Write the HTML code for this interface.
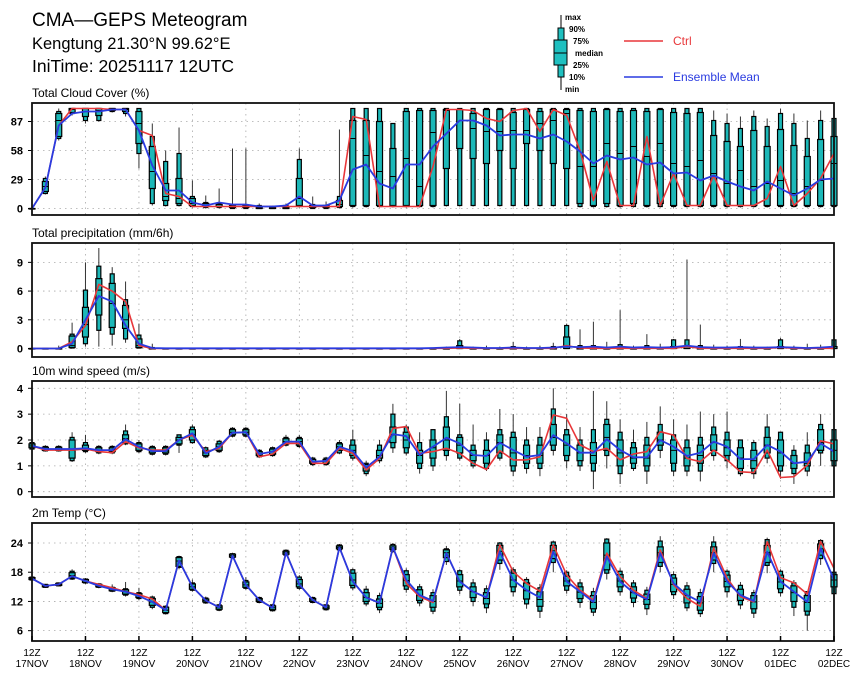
<!DOCTYPE html>
<html><head><meta charset="utf-8"><style>
html,body{margin:0;padding:0;background:#fff;}
svg{display:block;font-family:"Liberation Sans",sans-serif;}
</style></head><body>
<svg id="chart" width="860" height="679" viewBox="0 0 860 679" xmlns="http://www.w3.org/2000/svg">
<text x="32" y="26" font-size="19" fill="#000">CMA—GEPS Meteogram</text>
<text x="32" y="49" font-size="16.5" fill="#000">Kengtung 21.30°N 99.62°E</text>
<text x="32" y="72" font-size="17.5" fill="#000">IniTime: 20251117 12UTC</text>
<g>
<line x1="561" y1="15" x2="561" y2="90" stroke="#000" stroke-width="1"/>
<rect x="558" y="28" width="6" height="49" fill="#1fc0c0" stroke="#000" stroke-width="1"/>
<rect x="554" y="40" width="13" height="25" fill="#1fc0c0" stroke="#000" stroke-width="1"/>
<line x1="554" y1="53" x2="567" y2="53" stroke="#000"/>
<g font-size="8" font-weight="bold" fill="#000">
<text x="565" y="20">max</text><text x="569" y="32">90%</text><text x="573" y="44">75%</text>
<text x="575" y="56">median</text><text x="573" y="68">25%</text><text x="569" y="80">10%</text><text x="565" y="92">min</text>
</g></g>
<g>
<line x1="624" y1="41" x2="663" y2="41" stroke="#e8373a" stroke-width="1.5"/>
<text x="673" y="45" font-size="12" fill="#e8373a">Ctrl</text></g>
<g>
<line x1="624" y1="77" x2="663" y2="77" stroke="#2a3be0" stroke-width="1.5"/>
<text x="673" y="81" font-size="12" fill="#2a3be0">Ensemble Mean</text></g>
</svg>
<script>
// ---- data (61 six-hourly steps) ----
const days=["17NOV","18NOV","19NOV","20NOV","21NOV","22NOV","23NOV","24NOV","25NOV","26NOV","27NOV","28NOV","29NOV","30NOV","01DEC","02DEC"];
const cloudTicks=[0,29,58,87];
const precTicks=[0,3,6,9];
const windTicks=[0,1,2,3,4];
const tempTicks=[6,12,18,24];

const meanC=[0,21,83,95,97,97,99,99,78,43, 18,18,6,3,6,4,4,2,2,3, 12,3,3,8,39,44,25,20,44,44, 62,75,88,88,83,73,74,74,70,74, 67,57,45,53,49,51,44,46,35,36, 28,33,27,22,18,27,20,13,20,29,30];
const ctrlC=[0,21,83,100,100,100,99,99,78,73, 15,12,2,2,2,2,2,2,2,2, 2,2,2,2,92,89,2,2,2,2, 42,99,99,98,90,87,98,100,77,99, 93,58,8,47,3,3,72,3,35,3, 3,33,3,3,3,10,42,3,15,30,55];
const medC=[0,22,88,99,97,98,100,99,85,37, 12,10,5,3,2,2,2,1,1,1, 10,2,2,4,70,53,37,32,50,22, 76,98,99,80,77,77,78,78,85,88, 95,42,42,65,55,62,52,65,45,42, 48,35,25,38,22,25,28,15,22,28,45];
const q1C=[0,17,72,96,92,93,98,97,65,20, 8,5,3,2,2,1,1,0,0,0, 3,1,1,2,3,3,3,3,3,3, 3,40,60,50,45,58,40,65,58,45, 40,5,3,5,3,5,3,5,3,3, 3,3,3,3,3,3,3,3,3,3,3];
const q3C=[0,27,95,100,100,100,100,100,97,62, 25,30,10,5,4,3,3,2,2,2, 30,3,3,8,88,88,87,60,97,98, 98,99,99,95,99,99,96,99,97,99, 99,98,97,99,97,98,97,99,96,95, 96,73,67,62,78,62,79,63,52,69,72];
const p10C=[0,15,70,95,88,88,97,95,55,5, 3,3,2,1,1,0,0,0,0,0, 2,0,0,1,2,2,2,2,2,2, 2,3,3,3,3,3,3,3,3,3, 3,2,2,2,2,2,2,2,2,2, 2,2,2,2,2,2,2,2,2,2,2];
const p90C=[0,30,97,100,100,100,100,100,100,72, 47,55,12,6,5,3,3,3,2,3, 49,4,3,12,100,100,100,85,100,100, 100,100,100,100,100,100,100,100,100,100, 100,100,100,100,100,100,100,100,100,100, 100,88,85,80,92,82,95,85,70,88,90];
const mnC=[0,14,68,93,85,87,96,92,40,3, 2,2,1,0,0,0,0,0,0,0, 1,0,0,0,1,1,1,1,1,1, 1,2,2,2,2,2,2,2,2,2, 2,1,1,1,1,1,1,1,1,1, 1,1,1,1,1,1,1,1,1,1,1];
const mxC=[0,32,100,100,100,100,100,100,100,85, 58,81,28,13,20,60,60,5,3,5, 60,12,7,79,100,100,97,85,100,100, 100,100,100,100,100,100,100,100,100,100, 100,100,100,100,100,100,100,100,100,100, 100,98,95,92,98,90,100,95,88,98,100];

const meanP=[0,0,0,0.5,3.0,5.5,4.9,2.4,0.5,0.05, 0.02,0.02,0.02,0.02,0.02,0.02,0.02,0.02,0.02,0.02, 0.02,0.02,0.02,0.02,0.02,0.02,0.02,0.02,0.02,0.02, 0.05,0.1,0.15,0.1,0.05,0.05,0.1,0.05,0.05,0.1, 0.2,0.15,0.2,0.1,0.2,0.1,0.15,0.1,0.15,0.3, 0.15,0.1,0.1,0.15,0.1,0.1,0.15,0.1,0.05,0.1,0.2];
const ctrlP=[0,0,0,0.7,2.4,6.7,6.0,4.9,0.3,0, 0,0,0,0,0,0,0,0,0,0, 0,0,0,0,0,0,0,0,0,0, 0.02,0.02,0.05,0.02,0.02,0.02,0.02,0.02,0.02,0.02, 0.3,0.05,0.02,0.02,0.02,0.02,0.02,0.02,0.02,0.2, 0.02,0.02,0.02,0.02,0.02,0.02,0.1,0.02,0.02,0.02,0.02];
const medP=[0,0,0,0.3,2.5,6.1,4.7,3.0,0.3,0, 0,0,0,0,0,0,0,0,0,0, 0,0,0,0,0,0,0,0,0,0, 0,0,0,0,0,0,0,0,0,0, 0,0,0,0,0,0,0,0,0,0, 0,0,0,0,0,0,0,0,0,0,0];
const q1P=[0,0,0,0.1,1.2,3.5,2.2,2.1,0.1,0, 0,0,0,0,0,0,0,0,0,0, 0,0,0,0,0,0,0,0,0,0, 0,0,0,0,0,0,0,0,0,0, 0,0,0,0,0,0,0,0,0,0, 0,0,0,0,0,0,0,0,0,0,0];
const q3P=[0,0,0,1.3,4.3,7.3,6.8,4.5,1.0,0, 0,0,0,0,0,0,0,0,0,0, 0,0,0,0,0,0,0,0,0,0, 0,0,0.3,0,0,0,0,0,0,0, 1.2,0,0,0,0,0,0,0,0.2,0.2, 0,0,0,0,0,0,0.2,0,0,0,0.2];
const p10P=[0,0,0,0.05,0.5,1.9,1.5,1.0,0.05,0, 0,0,0,0,0,0,0,0,0,0, 0,0,0,0,0,0,0,0,0,0, 0,0,0,0,0,0,0,0,0,0, 0,0,0,0,0,0,0,0,0,0, 0,0,0,0,0,0,0,0,0,0,0];
const p90P=[0,0,0,1.5,6.1,8.6,7.8,5.1,1.4,0.1, 0,0,0,0,0,0,0,0,0,0, 0,0,0,0,0,0,0,0,0,0, 0,0,0.8,0,0,0,0.2,0,0,0.2, 2.4,0.3,0.3,0,0.4,0,0.3,0.1,0.9,0.9, 0.3,0,0,0.2,0,0,0.9,0,0,0,0.9];
const mnP=[0,0,0,0,0.2,0.2,0.3,0.6,0,0, 0,0,0,0,0,0,0,0,0,0, 0,0,0,0,0,0,0,0,0,0, 0,0,0,0,0,0,0,0,0,0, 0,0,0,0,0,0,0,0,0,0, 0,0,0,0,0,0,0,0,0,0,0];
const mxP=[0,0,0.3,2.7,9.0,10.5,8.5,7.0,2.6,0.5, 0,0,0,0,0,0,0,0,0,0, 0,0,0,0,0,0,0,0,0,0, 0,0.2,1.0,0.2,0.3,0.2,0.7,0.2,0.3,0.6, 2.6,2.0,2.8,0.7,4.0,0.3,1.5,0.5,1.0,9.3, 2.5,0.4,0.3,1.0,0.3,0.2,1.1,0.3,0.5,0.4,1.3];

const meanW=[1.77,1.65,1.65,1.65,1.68,1.61,1.61,2.03,1.74,1.57, 1.57,2.0,2.26,1.48,1.74,2.28,2.30,1.46,1.55,1.94, 1.94,1.16,1.19,1.74,1.57,0.94,1.35,2.23,2.15,1.42, 1.74,2.09,1.87,1.42,1.38,1.9,1.61,1.35,1.42,2.19, 1.87,1.51,1.51,2.03,1.61,1.33,1.33,2.0,1.74,1.38, 1.51,1.94,1.74,1.26,1.26,1.81,1.55,1.1,1.16,1.87,1.55];
const ctrlW=[1.77,1.61,1.61,1.61,1.65,1.55,1.51,1.94,1.70,1.61, 1.61,2.0,2.19,1.55,1.68,2.28,2.30,1.35,1.46,1.87, 1.87,1.10,1.10,1.68,1.48,0.84,1.29,2.45,2.52,1.48, 1.55,1.68,1.48,1.10,0.86,1.59,1.23,1.23,1.35,2.97, 2.84,1.81,1.55,1.68,1.23,1.46,1.55,2.32,2.19,1.29, 1.16,1.61,1.23,0.77,0.74,1.61,0.55,0.58,1.03,1.97,1.85];
const medW=[1.77,1.65,1.65,1.6,1.68,1.61,1.61,2.05,1.74,1.57, 1.57,2.0,2.2,1.5,1.74,2.3,2.3,1.46,1.55,1.94, 1.94,1.16,1.19,1.74,1.6,0.94,1.4,2.2,2.0,1.4, 1.7,2.0,1.8,1.4,1.4,1.9,1.5,1.4,1.4,2.1, 1.8,1.5,1.4,2.1,1.5,1.3,1.3,2.0,1.6,1.3, 1.4,1.9,1.7,1.3,1.2,1.8,1.5,1.1,1.1,1.9,1.6];
const q1W=[1.7,1.6,1.6,1.3,1.6,1.55,1.55,1.9,1.6,1.5, 1.5,1.85,2.0,1.4,1.6,2.2,2.2,1.4,1.45,1.85, 1.8,1.1,1.1,1.6,1.4,0.8,1.3,1.9,1.7,1.1, 1.3,1.6,1.5,1.2,1.1,1.5,1.0,1.1,1.1,1.8, 1.4,1.2,1.1,1.6,1.0,1.1,1.0,1.8,1.1,1.0, 1.1,1.6,1.4,0.9,0.9,1.5,1.0,0.9,1.0,1.6,1.2];
const q3W=[1.85,1.72,1.72,2.0,1.8,1.7,1.7,2.2,1.85,1.7, 1.7,2.1,2.4,1.6,1.85,2.4,2.4,1.55,1.65,2.05, 2.05,1.25,1.25,1.85,1.8,1.05,1.6,2.5,2.3,1.6, 2.0,2.5,2.1,1.6,1.6,2.2,2.1,1.8,1.8,2.6, 2.2,1.8,1.9,2.6,2.0,1.7,1.8,2.3,2.0,1.7, 1.8,2.2,2.0,1.7,1.6,2.1,2.0,1.4,1.5,2.4,2.0];
const p10W=[1.65,1.58,1.58,1.2,1.55,1.5,1.5,1.85,1.55,1.45, 1.45,1.8,1.9,1.35,1.55,2.15,2.15,1.35,1.4,1.8, 1.75,1.05,1.05,1.5,1.3,0.7,1.2,1.7,1.5,0.9, 1.0,1.4,1.3,1.0,0.9,1.3,0.8,0.9,0.9,1.6, 1.2,1.0,0.8,1.4,0.7,0.9,0.8,1.6,0.8,0.8, 0.8,1.4,1.2,0.7,0.7,1.3,0.8,0.7,0.8,1.5,1.0];
const p90W=[1.9,1.75,1.75,2.1,1.9,1.75,1.75,2.35,1.9,1.75, 1.75,2.2,2.5,1.7,1.95,2.45,2.45,1.6,1.7,2.1, 2.1,1.3,1.3,1.9,2.0,1.1,1.8,3.0,2.5,1.9, 2.4,2.9,2.2,1.8,2.0,2.4,2.3,2.0,2.1,3.2, 2.4,2.0,2.4,2.8,2.3,1.9,2.1,2.6,2.2,2.0, 2.1,2.5,2.3,2.0,1.9,2.5,2.3,1.6,1.8,2.6,2.4];
const mnW=[1.6,1.55,1.55,1.15,1.5,1.45,1.45,1.8,1.5,1.4, 1.4,1.5,1.85,1.3,1.5,2.1,2.1,1.3,1.35,1.75, 1.7,1.0,1.0,1.45,1.2,0.6,1.1,1.5,1.4,0.7, 0.8,1.2,1.2,0.9,0.8,1.2,0.6,0.7,0.6,1.4, 0.9,0.8,0.1,0.9,0.3,0.8,0.3,1.3,0.6,0.6, 0.4,1.2,0.9,0.6,0.5,1.1,0.5,0.3,0.6,1.0,0.8];
const mxW=[1.95,1.8,1.8,2.3,2.2,1.8,1.8,2.6,2.0,1.8, 1.8,2.2,2.6,1.75,2.0,2.5,2.5,1.65,1.75,2.2, 2.2,1.35,1.35,2.0,2.4,1.2,2.0,3.4,2.6,2.3, 2.4,3.9,3.4,2.6,2.3,3.2,3.0,2.5,2.5,4.0, 3.0,2.5,3.9,3.5,2.8,2.4,2.7,3.3,2.8,2.6, 3.1,3.0,3.1,2.0,2.0,3.0,2.3,1.8,2.3,3.0,2.5];

const meanT=[16.7,15.2,15.5,17.2,16.2,15.2,14.5,14.0,13.1,11.9, 10.2,20.4,15.0,12.2,10.8,21.4,15.4,12.3,10.7,22.0, 15.5,12.3,10.8,23.1,16.1,12.8,11.7,23.1,16.4,13.3, 12.1,21.9,16.1,14.0,12.8,22.2,16.4,14.3,12.8,22.2, 16.1,14.0,11.9,21.2,16.1,13.8,12.4,21.9,15.7,13.3, 11.9,21.9,16.1,13.3,12.1,22.2,16.1,14.0,11.9,22.9,16.4];
const ctrlT=[16.7,15.2,15.5,17.2,16.2,15.5,14.8,14.0,13.4,12.5, 10.2,20.4,15.0,12.2,10.8,21.4,15.4,12.3,10.7,22.0, 15.5,12.3,10.8,23.1,16.1,12.8,11.7,23.1,15.7,13.0, 11.8,21.9,16.1,14.0,12.8,23.6,18.1,15.7,14.1,23.6, 17.4,14.3,12.3,21.9,17.1,14.3,12.6,22.6,15.4,12.6, 11.0,23.0,16.8,13.0,11.9,24.3,16.9,15.8,13.5,24.3,18.8];
const medT=[16.7,15.2,15.5,17.3,16.2,15.2,14.5,14.0,13.2,11.9, 10.2,20.3,15.0,12.2,10.8,21.4,15.4,12.3,10.7,22.0, 15.6,12.3,10.8,23.1,16.4,12.8,11.6,23.0,16.3,13.2, 12.0,22.0,16.2,14.0,12.6,22.3,16.4,14.2,12.4,22.4, 16.2,13.9,11.8,21.5,16.2,13.8,12.4,22.0,15.5,13.2, 11.7,22.0,16.1,13.3,11.9,22.0,16.0,13.8,11.8,22.8,16.4];
const q1T=[16.5,15.0,15.3,16.8,15.9,15.0,14.2,13.5,12.8,11.2, 9.7,19.2,14.5,11.9,10.4,21.1,14.9,12.0,10.3,21.7, 15.0,12.0,10.5,22.8,15.3,12.0,10.8,22.7,15.2,12.2, 10.8,21.0,15.0,12.8,11.5,20.5,15.0,12.5,11.0,20.8, 15.2,12.6,10.5,18.5,15.0,12.7,11.4,20.0,14.0,11.7, 10.2,20.5,15.0,12.2,10.5,20.0,14.6,12.0,10.0,21.5,15.0];
const q3T=[16.9,15.4,15.7,17.9,16.5,15.5,14.8,14.4,13.6,12.6, 10.8,21.0,15.6,12.5,11.1,21.7,16.0,12.6,11.1,22.3, 16.5,12.6,11.1,23.4,17.8,13.8,12.5,23.4,17.5,14.4, 13.2,22.6,17.5,15.0,13.8,23.5,17.8,15.8,14.0,23.5, 17.2,15.0,13.2,24.0,17.5,15.0,13.5,23.2,16.8,14.5, 13.0,23.2,17.4,14.5,13.2,23.5,17.4,15.2,13.2,23.8,17.5];
const p10T=[16.4,14.9,15.2,16.6,15.8,14.9,14.1,13.3,12.6,10.8, 9.5,19.0,14.3,11.7,10.2,21.0,14.7,11.8,10.1,21.5, 14.7,11.8,10.3,22.6,14.8,11.5,10.3,22.3,14.5,11.7, 10.0,20.2,14.3,12.0,10.7,19.8,14.0,11.5,10.0,20.0, 14.3,11.8,9.8,17.8,14.0,11.8,10.5,19.2,13.4,10.7, 9.5,19.8,14.0,11.3,9.6,19.4,13.8,10.8,9.2,20.8,13.6];
const p90T=[17.0,15.5,15.8,18.2,16.6,15.6,14.9,14.6,13.8,12.9, 11.0,21.2,15.8,12.7,11.3,21.8,16.3,12.8,11.3,22.5, 17.0,12.8,11.3,23.6,18.5,14.5,13.2,23.7,18.3,15.0, 13.8,22.8,18.3,15.8,14.6,24.0,18.5,16.5,14.8,24.2, 18.0,15.8,14.0,24.8,18.2,15.8,14.3,24.4,17.5,15.2, 13.8,24.2,18.2,15.3,13.8,24.7,18.2,15.8,14.0,24.5,18.0];
const mnT=[16.3,14.8,15.1,16.4,15.6,14.7,13.9,13.0,12.3,10.4, 9.3,18.6,14.0,11.5,10.0,20.8,14.4,11.6,9.9,21.3, 14.4,11.6,10.1,22.4,14.3,11.0,9.6,22.0,13.8,11.0, 9.4,19.5,13.5,11.0,9.6,18.5,13.0,10.5,8.6,18.0, 13.6,10.7,9.0,16.5,13.2,10.8,9.2,18.0,12.5,10.0, 8.8,18.0,12.8,10.4,8.6,17.8,13.0,9.0,6.0,19.5,13.2];
const mxT=[17.1,15.6,15.9,18.6,16.8,15.8,15.5,16.0,14.8,13.2, 11.2,21.4,16.5,13.0,11.5,22.0,17.0,13.0,11.5,22.7, 17.4,13.0,11.5,23.8,18.8,15.2,13.8,24.0,18.8,15.6, 14.5,23.4,18.6,16.6,15.3,24.2,19.0,17.0,15.6,24.5, 18.4,16.6,14.8,25.0,18.8,16.4,15.0,25.4,18.2,16.0, 14.6,25.4,18.6,16.0,14.4,25.1,18.6,16.4,14.0,24.8,18.3];

// ---- layout ----
const svg=document.getElementById('chart');
const NS='http://www.w3.org/2000/svg';
const X0=32,X1=834,NSTEP=60;
function xs(i){return X0+(X1-X0)*i/NSTEP;}
function mk(tag,attrs,parent){const e=document.createElementNS(NS,tag);for(const k in attrs)e.setAttribute(k,attrs[k]);(parent||svg).appendChild(e);return e;}

const panels=[
 {name:'cloud',title:'Total Cloud Cover (%)',top:103,bot:215,v0:0,y0:208.5,scale:1.0,ticks:cloudTicks,mean:meanC,ctrl:ctrlC,med:medC,q1:q1C,q3:q3C,p10:p10C,p90:p90C,mn:mnC,mx:mxC},
 {name:'precipitation',title:'Total precipitation (mm/6h)',top:243,bot:357,v0:0,y0:348.5,scale:9.57,ticks:precTicks,mean:meanP,ctrl:ctrlP,med:medP,q1:q1P,q3:q3P,p10:p10P,p90:p90P,mn:mnP,mx:mxP},
 {name:'wind',title:'10m wind speed (m/s)',top:381,bot:497,v0:0,y0:491.7,scale:25.85,ticks:windTicks,mean:meanW,ctrl:ctrlW,med:medW,q1:q1W,q3:q3W,p10:p10W,p90:p90W,mn:mnW,mx:mxW},
 {name:'temperature',title:'2m Temp (°C)',top:523,bot:641,v0:24,y0:543,scale:4.87,ticks:tempTicks,mean:meanT,ctrl:ctrlT,med:medT,q1:q1T,q3:q3T,p10:p10T,p90:p90T,mn:mnT,mx:mxT}
];

panels.forEach(function(p){
  const ys=function(v){return p.y0-(v-p.v0)*p.scale;};
  const g=mk('g',{});
  
  
  const t=mk('text',{x:32,y:p.top-6,'font-size':12,fill:'#000'},g);
  t.textContent=p.title;
  
  
  p.ticks.forEach(function(v){
    const gl=mk('line',{x1:X0,x2:X1,y1:ys(v),y2:ys(v),stroke:'#aaa','stroke-width':0.8,'stroke-dasharray':'1.5,4'},g);
    
    
    mk('line',{x1:X0-4,x2:X0,y1:ys(v),y2:ys(v),stroke:'#000'},g);
    const lb=mk('text',{x:X0-9,y:ys(v)+4,'font-size':11,'font-weight':'bold','text-anchor':'end',fill:'#000'},g);
    lb.textContent=String(v);
    
    
  });
  for(let d=1;d<days.length-1;d++){
    const x=xs(d*4);
    const vl=mk('line',{x1:x,x2:x,y1:p.top,y2:p.bot,stroke:'#aaa','stroke-width':0.8,'stroke-dasharray':'1.5,4'},g);
    
    
  }
  for(let i=0;i<p.mean.length;i++){
    const x=xs(i);
    const bg=mk('g',{},g);
    
    
    mk('line',{x1:x,x2:x,y1:ys(p.mx[i]),y2:ys(p.mn[i]),stroke:'#333','stroke-width':1},bg);
    const a=ys(p.p90[i]),b=ys(p.p10[i]);
    mk('rect',{x:x-2,y:a,width:4,height:Math.max(0.5,b-a),fill:'#1cb8b8',stroke:'#000','stroke-width':1.2},bg);
    const c=ys(p.q3[i]),e=ys(p.q1[i]);
    mk('rect',{x:x-3,y:c,width:6,height:Math.max(0.5,e-c),fill:'#1cb8b8',stroke:'#000','stroke-width':1.2},bg);
    mk('line',{x1:x-3,x2:x+3,y1:ys(p.med[i]),y2:ys(p.med[i]),stroke:'#000','stroke-width':1},bg);
  }
  const cp=p.ctrl.map(function(v,i){return xs(i).toFixed(1)+','+ys(v).toFixed(1);}).join(' ');
  const cl=mk('polyline',{points:cp,fill:'none',stroke:'#e8373a','stroke-width':1.6,'stroke-linejoin':'round'},g);
  
  
  const mp=p.mean.map(function(v,i){return xs(i).toFixed(1)+','+ys(v).toFixed(1);}).join(' ');
  const ml=mk('polyline',{points:mp,fill:'none',stroke:'#2a3be0','stroke-width':1.8,'stroke-linejoin':'round'},g);
  
  
  const fr=mk('rect',{x:X0,y:p.top,width:X1-X0,height:p.bot-p.top,fill:'none',stroke:'#111','stroke-width':1.8},g);
  
  
});
for(let d=0;d<days.length;d++){
  const x=xs(d*4);
  mk('line',{x1:x,x2:x,y1:641,y2:636,stroke:'#000','stroke-width':1.5});
  const t1=mk('text',{x:x,y:656,'font-size':10,'text-anchor':'middle',fill:'#000'});
  t1.textContent='12Z';
  
  
  const t2=mk('text',{x:x,y:667,'font-size':10,'text-anchor':'middle',fill:'#000'});
  t2.textContent=days[d];
  
  
}
</script>
</body></html>
